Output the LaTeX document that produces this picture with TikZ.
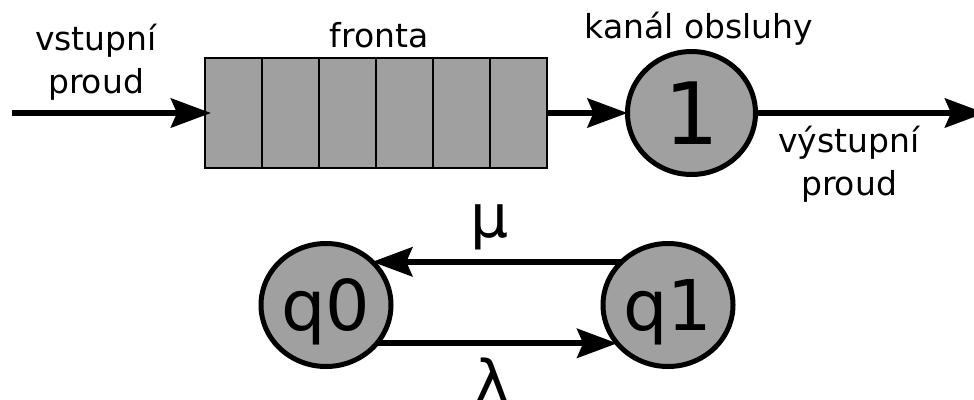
\documentclass[tikz,border=0pt]{standalone}
\usepackage{fontspec}
\setmainfont{DejaVu Sans}
\usetikzlibrary{arrows.meta,shapes.geometric}
\definecolor{fillgray}{HTML}{A0A0A0}
\begin{document}
\begin{tikzpicture}[x=1pt,y=-1pt,
  every node/.style={font=\fontsize{33}{43}\selectfont, inner sep=0pt, outer sep=0pt},
  cell/.style={draw=black, line width=2pt, fill=fillgray, minimum width=57pt, minimum height=110pt},
  state/.style={ellipse, draw=black, line width=5pt, fill=fillgray, minimum width=130pt, minimum height=123pt, text depth=0pt, font=\fontsize{70}{80}\selectfont},
  arr/.style={line width=6pt, -{Stealth[length=40pt,width=29pt,inset=6pt]}},
  lbl/.style={anchor=base},
  greek/.style={anchor=base, font=\fontsize{60}{70}\selectfont},
]
\useasboundingbox (0,0) rectangle (974,399);
% queue cells
\node[cell] (c1) at (233.5,113) {};
\node[cell] (c2) at (290.5,113) {};
\node[cell] (c3) at (347.5,113) {};
\node[cell] (c4) at (404.5,113) {};
\node[cell] (c5) at (461.5,113) {};
\node[cell] (c6) at (518.5,113) {};
% service channel
\node[state, minimum width=128pt, font=\fontsize{86}{90}\selectfont] (srv) at (691.5,113) {1};
% labels
\node[lbl, align=center] (vin) at (96,93) {vstupní\\proud};
\node[lbl] (fronta) at (379,47) {fronta};
\node[lbl] (kanal) at (699,38) {kanál obsluhy};
\node[lbl, align=center] (vout) at (849,195) {výstupní\\proud};
% flow arrows
\coordinate (instart) at (12,113);
\coordinate (outend) at (985,113);
\draw[arr, shorten >=-6pt] (instart) -- (c1.west);
\draw[arr] (c6.east) -- (srv.west);
\draw[arr] (srv.east) -- (outend);
% state diagram
\node[state] (q0) at (326,305) {q0};
\node[state] (q1) at (668,305) {q1};
\draw[arr] (q1.137) -- (q0.43);
\draw[arr] (q0.-37) -- (q1.217);
\node[greek] (mu) at (490,237) {μ};
\node[greek] (la) at (492,403) {λ};
\end{tikzpicture}
\end{document}
